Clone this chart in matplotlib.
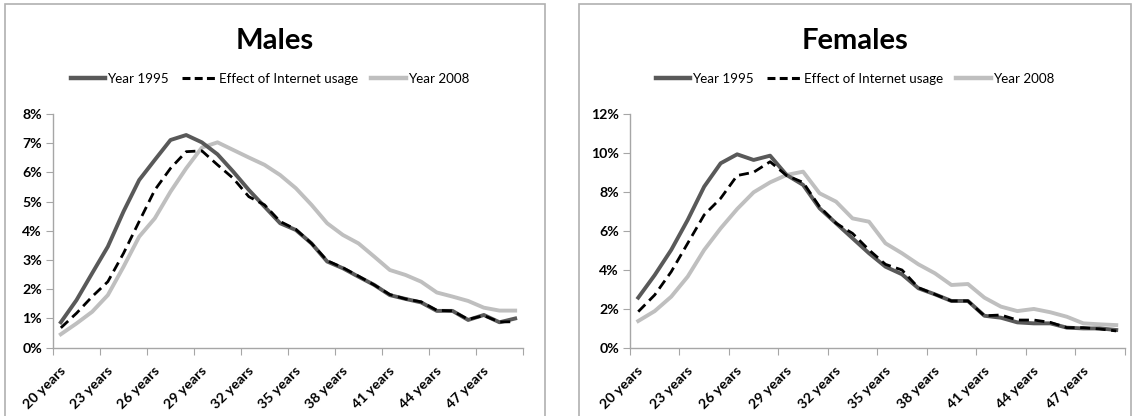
import matplotlib
matplotlib.use("Agg")
import matplotlib.pyplot as plt
import matplotlib.transforms as mtransforms
from matplotlib.patches import Rectangle
from matplotlib.lines import Line2D

ages = [f"{a} years" for a in range(20, 50)]
tick_ages = [f"{a} years" for a in range(20, 50, 3)]

males_1995 = [0.87, 1.63, 2.55, 3.46, 4.66, 5.74, 6.43, 7.11, 7.28, 7.03, 6.62, 6.03, 5.40, 4.83, 4.26,
              4.03, 3.57, 2.95, 2.72, 2.43, 2.15, 1.80, 1.67, 1.55, 1.26, 1.26, 0.95, 1.12, 0.87, 1.00]
males_effect = [0.68, 1.18, 1.75, 2.26, 3.23, 4.32, 5.40, 6.14, 6.71, 6.74, 6.26, 5.80, 5.17, 4.89, 4.32,
                4.05, 3.57, 2.98, 2.74, 2.45, 2.15, 1.82, 1.67, 1.57, 1.28, 1.26, 0.97, 1.10, 0.88, 0.89]
males_2008 = [0.46, 0.83, 1.23, 1.80, 2.77, 3.80, 4.43, 5.34, 6.14, 6.85, 7.03, 6.77, 6.51, 6.26, 5.91,
              5.46, 4.89, 4.26, 3.86, 3.57, 3.12, 2.66, 2.49, 2.26, 1.89, 1.75, 1.60, 1.37, 1.27, 1.27]

females_1995 = [2.57, 3.73, 5.02, 6.56, 8.27, 9.47, 9.93, 9.64, 9.86, 8.87, 8.36, 7.16, 6.39, 5.62, 4.85,
                4.16, 3.77, 3.05, 2.74, 2.40, 2.40, 1.64, 1.54, 1.30, 1.25, 1.25, 1.03, 0.99, 0.99, 0.91]
females_effect = [1.85, 2.71, 3.90, 5.36, 6.82, 7.67, 8.84, 9.01, 9.55, 8.84, 8.49, 7.24, 6.39, 5.87, 5.02,
                  4.28, 3.99, 3.08, 2.74, 2.40, 2.40, 1.64, 1.68, 1.42, 1.42, 1.30, 1.03, 1.03, 0.96, 0.86]
females_2008 = [1.37, 1.88, 2.62, 3.65, 5.02, 6.13, 7.12, 7.98, 8.49, 8.87, 9.04, 7.93, 7.50, 6.64, 6.47,
                5.36, 4.85, 4.28, 3.82, 3.22, 3.27, 2.57, 2.11, 1.88, 1.99, 1.82, 1.59, 1.25, 1.20, 1.16]

series_labels = ["Year 1995", "Effect of Internet usage", "Year 2008"]

plt.rcParams['font.family'] = ['Lato', 'DejaVu Sans']

W, H = 1134, 416
fig = plt.figure(figsize=(W / 100, H / 100), dpi=100)

C_DARK = "#595959"
C_LIGHT = "#bfbfbf"
AX_GRAY = "#a6a6a6"

def px(x0, x1, y0, y1):
    return [x0 / W, 1 - y1 / H, (x1 - x0) / W, (y1 - y0) / H]

# chart-area borders
for (bx0, bx1) in [(5, 545), (579, 1131)]:
    fig.patches.append(Rectangle((bx0 / W, -0.01), (bx1 - bx0) / W, 1 - 4 / H + 0.01,
                                 transform=fig.transFigure, fill=False,
                                 edgecolor="#b0b0b0", linewidth=1.2))

shift = mtransforms.ScaledTranslation(3 / 100, 0, fig.dpi_scale_trans)

def panel(rect, title, d1995, deff, d2008, ymax, ystep, tcx, legend_cx):
    ax = fig.add_axes(rect)
    xs = list(range(len(ages)))
    ax.plot(xs, d1995, color=C_DARK, lw=2.8, solid_joinstyle='round', zorder=3)
    ax.plot(xs, d2008, color=C_LIGHT, lw=2.8, solid_joinstyle='round', zorder=2)
    ax.plot(xs, deff, color="black", lw=2.0, dashes=(3.6, 2.0), zorder=4)
    ax.set_xlim(-0.5, len(ages) - 0.5)
    ax.set_ylim(0, ymax)
    for s in ['top', 'right']:
        ax.spines[s].set_visible(False)
    for s in ['left', 'bottom']:
        ax.spines[s].set_color(AX_GRAY)
        ax.spines[s].set_linewidth(1.0)
    ax.set_xticks([i - 0.5 for i in range(0, len(ages) + 1, 3)])
    ax.set_xticklabels([])
    ax.set_xticks(list(range(0, len(ages), 3)), minor=True)
    ax.set_xticklabels(tick_ages, minor=True, rotation=45, ha='right', va='center',
                       rotation_mode='anchor', fontsize=10.2, fontweight='bold')
    ax.tick_params(axis='x', which='major', length=5, color=AX_GRAY, direction='out')
    ax.tick_params(axis='x', which='minor', length=0, pad=15)
    for lab in ax.get_xticklabels(minor=True):
        lab.set_transform(lab.get_transform() + shift)
    yt = list(range(0, ymax + 1, ystep))
    ax.set_yticks(yt)
    ax.set_yticklabels([f"{v}%" for v in yt], fontsize=10.2, fontweight='bold')
    ax.tick_params(axis='y', length=5, color=AX_GRAY, direction='out', pad=3)
    fig.text(tcx / W, 1 - 49 / H, title, ha='center', va='baseline',
             fontsize=21, fontweight='bold')
    handles = [Line2D([], [], color=C_DARK, lw=3.2),
               Line2D([], [], color="black", lw=2.2, dashes=(2.6, 1.4)),
               Line2D([], [], color=C_LIGHT, lw=3.2)]
    fig.legend(handles, series_labels, loc='center', ncol=3,
               bbox_to_anchor=(legend_cx / W, 1 - 79 / H), frameon=False,
               fontsize=9.6, handlelength=2.6, handletextpad=0.15, columnspacing=1.0)
    return ax

panel(px(53, 523, 114, 347.7), "Males", males_1995, males_effect, males_2008, 8, 1, 275, 270)
panel(px(630, 1124.5, 114, 347.7), "Females", females_1995, females_effect, females_2008, 12, 2, 855, 855)

fig.savefig("out.png", dpi=100)
